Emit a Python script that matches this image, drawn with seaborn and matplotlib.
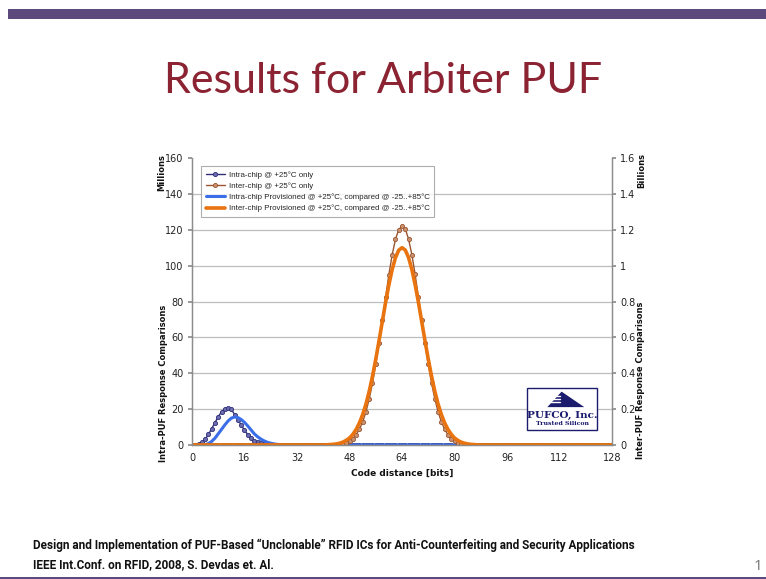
import matplotlib.pyplot as plt
import matplotlib.patches as mpatches
import numpy as np
import pandas as pd
import seaborn as sns

sns.set_theme(style="white")
plt.rcParams["font.family"] = ["DejaVu Sans"]

# code distance in bits
code_distance = list(range(129))

# Intra-chip @ +25C only (millions), x = 0..28, zero afterwards
intra_25 = [0, 0.1, 0.5, 1.4, 3.2, 5.9, 9.1, 12.5, 15.8, 18.5, 20.2, 20.6, 19.8,
            17.0, 14.2, 11.1, 8.2, 5.8, 3.9, 2.5, 1.6, 1.0, 0.6, 0.35, 0.2,
            0.1, 0.05, 0.02, 0.01] + [0] * 100

# Intra-chip provisioned (millions), x = 0..30
intra_prov = [0, 0, 0, 0, 0.2, 0.8, 2.0, 3.8, 6.2, 8.7, 11.2, 13.4, 15.0, 15.6,
              15.3, 14.2, 12.6, 10.6, 8.4, 6.2, 4.6, 3.3, 2.3, 1.5, 1.0, 0.6,
              0.35, 0.2, 0.1, 0.05, 0.02] + [0] * 98

# Inter-chip @ +25C only (billions), non-zero from x = 43..85
inter_25 = [0] * 43 + [
    0.001, 0.002, 0.004, 0.008, 0.013, 0.022, 0.036, 0.057, 0.087, 0.128,
    0.184, 0.256, 0.344, 0.449, 0.567, 0.695, 0.825, 0.950, 1.060, 1.146,
    1.201, 1.220, 1.205, 1.148, 1.062, 0.952, 0.826, 0.696, 0.568, 0.450,
    0.345, 0.257, 0.185, 0.129, 0.088, 0.057, 0.036, 0.022, 0.013, 0.008,
    0.004, 0.002, 0.001] + [0] * 43

# Inter-chip provisioned (billions), non-zero from x = 41..87
inter_prov = [0] * 41 + [
    0.001, 0.002, 0.0035, 0.006, 0.010, 0.016, 0.026, 0.039, 0.059, 0.086,
    0.122, 0.169, 0.227, 0.299, 0.383, 0.478, 0.581, 0.688, 0.795, 0.893,
    0.978, 1.044, 1.086, 1.100, 1.087, 1.045, 0.979, 0.894, 0.796, 0.689,
    0.582, 0.479, 0.384, 0.300, 0.228, 0.170, 0.123, 0.087, 0.060, 0.039,
    0.026, 0.016, 0.010, 0.006, 0.0035, 0.002, 0.001] + [0] * 41

labels = [
    "Intra-chip @ +25°C only",
    "Inter-chip @ +25°C only",
    "Intra-chip Provisioned @ +25°C, compared @ -25..+85°C",
    "Inter-chip Provisioned @ +25°C, compared @ -25..+85°C",
]
x_ticks = [0, 16, 32, 48, 64, 80, 96, 112, 128]
left_ticks = [0, 20, 40, 60, 80, 100, 120, 140, 160]
right_ticks = [0, 0.2, 0.4, 0.6, 0.8, 1, 1.2, 1.4, 1.6]
right_tick_labels = ["0", "0.2", "0.4", "0.6", "0.8", "1", "1.2", "1.4", "1.6"]

df = pd.DataFrame({
    "x": code_distance,
    "intra_25": intra_25,
    "intra_prov": intra_prov,
    "inter_25": inter_25,
    "inter_prov": inter_prov,
})

fig = plt.figure(figsize=(7.66, 5.79), dpi=100)
fig.patch.set_facecolor("white")
ax = fig.add_axes([192 / 766, 1 - 445 / 579, 420 / 766, 287 / 579])
ax2 = ax.twinx()
ax2.patch.set_visible(False)

tick_color = "#222222"
axis_color = "#8c8c8c"

# left axis (millions)
sns.lineplot(data=df, x="x", y="intra_25", ax=ax, color="#2e2e7a", linewidth=1.0,
             marker="o", markersize=3.0, markerfacecolor="#6e6eae",
             markeredgecolor="#2e2e7a", markeredgewidth=0.6, label=labels[0],
             legend=False)
sns.lineplot(data=df, x="x", y="intra_prov", ax=ax, color="#3a6ee8", linewidth=2.2,
             label=labels[2], legend=False)

# right axis (billions)
sns.lineplot(data=df, x="x", y="inter_25", ax=ax2, color="#9a5530", linewidth=1.0,
             marker="o", markersize=3.0, markerfacecolor="#c99270",
             markeredgecolor="#9a5530", markeredgewidth=0.6, label=labels[1],
             legend=False)
sns.lineplot(data=df, x="x", y="inter_prov", ax=ax2, color="#e8730f", linewidth=2.6,
             label=labels[3], legend=False)

ax.set_xlim(0, 128)
ax.set_ylim(0, 160)
ax2.set_ylim(0, 1.6)
ax.set_xticks(x_ticks)
ax.set_yticks(left_ticks)
ax2.set_yticks(right_ticks)
ax2.set_yticklabels(right_tick_labels)

ax.grid(axis="y", color="#bdbdbd", linewidth=0.9)
ax.grid(axis="x", visible=False)
ax2.grid(False)
ax.yaxis.get_gridlines()[-1].set_visible(False)
ax.set_axisbelow(True)

for a in (ax, ax2):
    a.spines["top"].set_visible(False)
    for side in ("left", "right", "bottom"):
        a.spines[side].set_color(axis_color)
        a.spines[side].set_linewidth(0.9)
ax.tick_params(axis="both", labelsize=7, colors=tick_color, length=3,
               direction="out", color=axis_color, pad=3)
ax2.tick_params(axis="y", labelsize=7, colors=tick_color, length=3,
                direction="out", color=axis_color, pad=3)

ax.set_xlabel("Code distance [bits]", fontsize=6.5, fontweight="bold",
              color="#111111", labelpad=4)
ax.set_ylabel("")
ax2.set_ylabel("")

ax.text(-0.072, 0.951, "Millions", transform=ax.transAxes, rotation=90,
        ha="center", va="center", fontsize=6, fontweight="bold", color="#111111")
ax.text(-0.069, 0.215, "Intra-PUF Response Comparisons", transform=ax.transAxes,
        rotation=90, ha="center", va="center", fontsize=6, fontweight="bold",
        color="#111111")
ax.text(1.071, 0.955, "Billions", transform=ax.transAxes, rotation=90,
        ha="center", va="center", fontsize=6, fontweight="bold", color="#111111")
ax.text(1.069, 0.226, "Inter-PUF Response Comparisons", transform=ax.transAxes,
        rotation=90, ha="center", va="center", fontsize=6, fontweight="bold",
        color="#111111")

# legend
h1, l1 = ax.get_legend_handles_labels()
h2, l2 = ax2.get_legend_handles_labels()
handles = [h1[0], h2[0], h1[1], h2[1]]
leg = ax2.legend(handles, labels, loc="upper left", bbox_to_anchor=(0.012, 0.985),
                 prop={"family": "Liberation Sans", "size": 5.7}, frameon=True,
                 fancybox=False, borderpad=0.6, handlelength=2.4,
                 labelspacing=0.45, handletextpad=0.5)
leg.get_frame().set_edgecolor("#9a9a9a")
leg.get_frame().set_linewidth(0.8)

# PUFCO logo box
navy = "#1c1c6e"
ax2.add_patch(mpatches.Rectangle((0.798, 0.052), 0.166, 0.147, transform=ax2.transAxes,
                                 facecolor="white", edgecolor=navy, linewidth=1.0,
                                 zorder=5))
ax2.add_patch(mpatches.Polygon([(0.880, 0.186), (0.846, 0.132), (0.934, 0.132)],
                               closed=True, transform=ax2.transAxes,
                               facecolor=navy, edgecolor="none", zorder=6))
for yy in (0.150, 0.160, 0.170):
    ax2.plot([0.838, 0.875], [yy, yy], transform=ax2.transAxes, color="white",
             linewidth=1.0, zorder=7)
ax2.text(0.881, 0.104, "PUFCO, Inc.", transform=ax2.transAxes, ha="center",
         va="center", fontsize=7.5, fontweight="bold", family="DejaVu Serif",
         color=navy, zorder=7)
ax2.text(0.881, 0.075, "Trusted Silicon", transform=ax2.transAxes, ha="center",
         va="center", fontsize=4.5, fontweight="bold", family="DejaVu Serif",
         color=navy, zorder=7)

# slide decoration
fig.patches.append(mpatches.Rectangle((8 / 766, 1 - 19 / 579), 1, 10 / 579,
                                      transform=fig.transFigure,
                                      facecolor="#5d4a7c", edgecolor="none"))
fig.patches.append(mpatches.Rectangle((0, 0), 1, 2 / 579, transform=fig.transFigure,
                                      facecolor="#5d4a7c", edgecolor="none"))
title = fig.text(0.5, 1 - 81 / 579, "Results for Arbiter PUF", ha="center",
                 va="center", fontsize=34, color="#8b2332", family="Lato")
foot1 = fig.text(33 / 766, 1 - 545 / 579,
                 "Design and Implementation of PUF-Based \u201cUnclonable\u201d RFID "
                 "ICs for Anti-Counterfeiting and Security Applications",
                 ha="left", va="center", fontsize=9.5, fontweight="bold",
                 color="#111111", family="Roboto")
foot2 = fig.text(33 / 766, 1 - 565 / 579,
                 "IEEE Int.Conf. on RFID, 2008, S. Devdas et. Al.",
                 ha="left", va="center", fontsize=9.5, fontweight="bold",
                 color="#111111", family="Roboto")
fig.text(762 / 766, 1 - 567 / 579, "1", ha="right", va="center", fontsize=11,
         color="#777777", family="Open Sans")

# fit slide texts to the widths seen on the slide
renderer = fig.canvas.get_renderer()
w = title.get_window_extent(renderer).width
title.set_fontsize(34 * 440 / w)
w = foot1.get_window_extent(renderer).width
scale = 604 / w
foot1.set_fontsize(9.5 * scale)
foot2.set_fontsize(9.5 * scale)

fig.savefig("out.png", dpi=100)
